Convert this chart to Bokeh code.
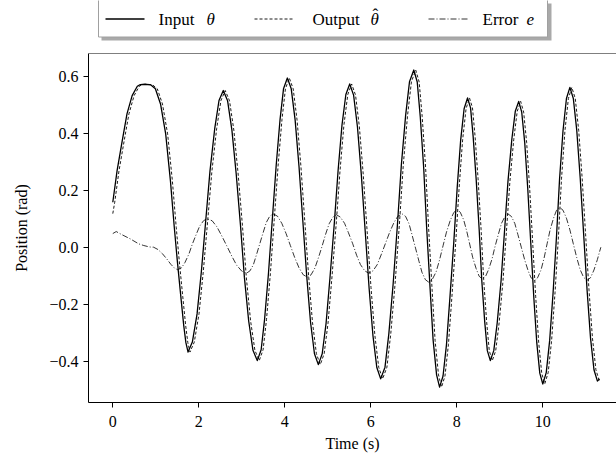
from bokeh.plotting import figure
from bokeh.models import FixedTicker, Span, Range1d
from bokeh.layouts import column
from bokeh.core.properties import value
from bokeh.embed import file_html
from bokeh.resources import INLINE

# ---------------- data ----------------
theta_t = [0.00, 0.10, 0.22, 0.33, 0.45, 0.57, 0.64, 0.75, 0.88, 0.99, 1.11, 1.23, 1.34, 1.43, 1.50, 1.58, 1.65, 1.70, 1.75,
           1.85, 1.96, 2.06, 2.16, 2.26, 2.37, 2.47, 2.57,
           2.67, 2.77, 2.87, 2.97, 3.06, 3.16, 3.26, 3.36,
           3.45, 3.53, 3.62, 3.71, 3.80, 3.89, 3.97, 4.06,
           4.15, 4.24, 4.33, 4.42, 4.51, 4.60, 4.69, 4.78,
           4.87, 4.96, 5.05, 5.15, 5.24, 5.33, 5.42, 5.51,
           5.60, 5.69, 5.78, 5.87, 5.96, 6.05, 6.14, 6.23,
           6.33, 6.42, 6.52, 6.62, 6.71, 6.81, 6.90, 7.00,
           7.08, 7.15, 7.23, 7.30, 7.38, 7.45, 7.53, 7.60,
           7.68, 7.76, 7.84, 7.93, 8.01, 8.09, 8.17, 8.25,
           8.32, 8.38, 8.45, 8.52, 8.58, 8.65, 8.71, 8.78,
           8.86, 8.94, 9.03, 9.11, 9.19, 9.28, 9.36, 9.44,
           9.51, 9.58, 9.65, 9.72, 9.79, 9.86, 9.93, 10.00,
           10.08, 10.16, 10.24, 10.32, 10.39, 10.47, 10.55, 10.63,
           10.71, 10.79, 10.87, 10.95, 11.03, 11.11, 11.19, 11.27, 11.32]
theta_v = [0.158, 0.269, 0.374, 0.468, 0.532, 0.565, 0.571, 0.572, 0.570, 0.556, 0.503, 0.398, 0.234, 0.070, -0.047, -0.170, -0.275, -0.335, -0.368,
           -0.333, -0.234, -0.085, 0.091, 0.267, 0.416, 0.515, 0.550,
           0.514, 0.411, 0.257, 0.076, -0.105, -0.259, -0.362, -0.398,
           -0.360, -0.253, -0.092, 0.098, 0.288, 0.449, 0.556, 0.594,
           0.556, 0.447, 0.284, 0.091, -0.102, -0.265, -0.374, -0.412,
           -0.374, -0.267, -0.108, 0.081, 0.270, 0.429, 0.536, 0.573,
           0.534, 0.422, 0.254, 0.056, -0.142, -0.310, -0.422, -0.462,
           -0.421, -0.303, -0.128, 0.080, 0.288, 0.463, 0.581, 0.622,
           0.580, 0.459, 0.279, 0.066, -0.147, -0.327, -0.448, -0.491,
           -0.452, -0.342, -0.177, 0.017, 0.211, 0.376, 0.486, 0.524,
           0.489, 0.389, 0.240, 0.063, -0.114, -0.263, -0.363, -0.398,
           -0.363, -0.265, -0.117, 0.057, 0.231, 0.379, 0.477, 0.512,
           0.474, 0.367, 0.206, 0.016, -0.174, -0.335, -0.442, -0.480,
           -0.440, -0.327, -0.158, 0.041, 0.240, 0.409, 0.522, 0.561,
           0.522, 0.410, 0.243, 0.046, -0.151, -0.319, -0.430, -0.470, -0.462]

out_t = [0.000, 0.045, 0.145, 0.265, 0.375, 0.495, 0.615, 0.685, 0.795, 0.925, 1.035, 1.155, 1.275, 1.385, 1.475, 1.545, 1.625, 1.695, 1.745, 1.795,
         1.895, 2.005, 2.105, 2.205, 2.305, 2.415, 2.515, 2.615,
         2.715, 2.815, 2.915, 3.015, 3.105, 3.205, 3.305, 3.405,
         3.495, 3.575, 3.665, 3.755, 3.845, 3.935, 4.015, 4.105,
         4.195, 4.285, 4.375, 4.465, 4.555, 4.645, 4.735, 4.825,
         4.915, 5.005, 5.095, 5.195, 5.285, 5.375, 5.465, 5.555,
         5.645, 5.735, 5.825, 5.915, 6.005, 6.095, 6.185, 6.275,
         6.375, 6.465, 6.565, 6.665, 6.755, 6.855, 6.945, 7.045,
         7.125, 7.195, 7.275, 7.345, 7.425, 7.495, 7.575, 7.645,
         7.725, 7.805, 7.885, 7.975, 8.055, 8.135, 8.215, 8.295,
         8.365, 8.425, 8.495, 8.565, 8.625, 8.695, 8.755, 8.825,
         8.905, 8.985, 9.075, 9.155, 9.235, 9.325, 9.405, 9.485,
         9.555, 9.625, 9.695, 9.765, 9.835, 9.905, 9.975, 10.045,
         10.125, 10.205, 10.285, 10.365, 10.435, 10.515, 10.595, 10.675,
         10.755, 10.835, 10.915, 10.995, 11.075, 11.155, 11.235, 11.315]
out_v = [0.118, 0.158, 0.269, 0.374, 0.468, 0.532, 0.565, 0.571, 0.572, 0.570, 0.556, 0.503, 0.398, 0.234, 0.070, -0.047, -0.170, -0.275, -0.335, -0.368,
         -0.333, -0.234, -0.085, 0.091, 0.267, 0.416, 0.515, 0.550,
         0.514, 0.411, 0.257, 0.076, -0.105, -0.259, -0.362, -0.398,
         -0.360, -0.253, -0.092, 0.098, 0.288, 0.449, 0.556, 0.594,
         0.556, 0.447, 0.284, 0.091, -0.102, -0.265, -0.374, -0.412,
         -0.374, -0.267, -0.108, 0.081, 0.270, 0.429, 0.536, 0.573,
         0.534, 0.422, 0.254, 0.056, -0.142, -0.310, -0.422, -0.462,
         -0.421, -0.303, -0.128, 0.080, 0.288, 0.463, 0.581, 0.622,
         0.580, 0.459, 0.279, 0.066, -0.147, -0.327, -0.448, -0.491,
         -0.452, -0.342, -0.177, 0.017, 0.211, 0.376, 0.486, 0.524,
         0.489, 0.389, 0.240, 0.063, -0.114, -0.263, -0.363, -0.398,
         -0.363, -0.265, -0.117, 0.057, 0.231, 0.379, 0.477, 0.512,
         0.474, 0.367, 0.206, 0.016, -0.174, -0.335, -0.442, -0.480,
         -0.440, -0.327, -0.158, 0.041, 0.240, 0.409, 0.522, 0.561,
         0.522, 0.410, 0.243, 0.046, -0.151, -0.319, -0.430, -0.470]

err_t = [0.00, 0.08, 0.20, 0.41, 0.60, 0.72, 0.85, 0.95, 1.05, 1.15, 1.25, 1.35, 1.44, 1.51,
         1.60, 1.68, 1.77, 1.85, 1.94, 2.02, 2.11, 2.19,
         2.31, 2.42, 2.53, 2.65, 2.77, 2.88, 3.00, 3.11,
         3.19, 3.27, 3.34, 3.42, 3.50, 3.57, 3.65, 3.73,
         3.83, 3.93, 4.03, 4.13, 4.23, 4.33, 4.43, 4.53,
         4.61, 4.70, 4.78, 4.87, 4.95, 5.03, 5.12, 5.20,
         5.29, 5.39, 5.48, 5.58, 5.67, 5.76, 5.86, 5.95,
         6.05, 6.15, 6.24, 6.34, 6.44, 6.54, 6.63, 6.73,
         6.81, 6.89, 6.96, 7.04, 7.12, 7.19, 7.27, 7.35,
         7.43, 7.52, 7.60, 7.68, 7.76, 7.85, 7.93, 8.01,
         8.08, 8.16, 8.23, 8.30, 8.37, 8.45, 8.52, 8.59,
         8.67, 8.74, 8.82, 8.89, 8.97, 9.04, 9.12, 9.19,
         9.27, 9.35, 9.42, 9.50, 9.58, 9.66, 9.73, 9.81,
         9.88, 9.96, 10.03, 10.10, 10.17, 10.25, 10.32, 10.39,
         10.47, 10.55, 10.63, 10.71, 10.79, 10.87, 10.95, 11.03,
         11.11, 11.19, 11.27, 11.35]
err_v = [0.048, 0.055, 0.045, 0.029, 0.012, 0.006, 0.001, 0.000, -0.008, -0.022, -0.040, -0.060, -0.074, -0.079,
         -0.072, -0.053, -0.024, 0.011, 0.045, 0.074, 0.093, 0.100,
         0.093, 0.072, 0.041, 0.005, -0.032, -0.063, -0.084, -0.091,
         -0.083, -0.061, -0.027, 0.013, 0.053, 0.087, 0.109, 0.117,
         0.109, 0.084, 0.048, 0.006, -0.036, -0.072, -0.097, -0.105,
         -0.097, -0.073, -0.038, 0.005, 0.046, 0.082, 0.106, 0.114,
         0.106, 0.084, 0.051, 0.012, -0.028, -0.061, -0.083, -0.091,
         -0.083, -0.061, -0.027, 0.013, 0.053, 0.087, 0.109, 0.117,
         0.108, 0.082, 0.043, -0.003, -0.049, -0.088, -0.114, -0.123,
         -0.113, -0.086, -0.044, 0.005, 0.053, 0.095, 0.122, 0.132,
         0.123, 0.096, 0.057, 0.011, -0.036, -0.075, -0.102, -0.111,
         -0.102, -0.078, -0.041, 0.003, 0.047, 0.084, 0.108, 0.117,
         0.108, 0.083, 0.045, 0.000, -0.045, -0.083, -0.108, -0.117,
         -0.107, -0.079, -0.038, 0.012, 0.061, 0.102, 0.130, 0.140,
         0.130, 0.102, 0.061, 0.012, -0.037, -0.079, -0.106, -0.116,
         -0.107, -0.080, -0.043, 0.000]

x_ticks = [0, 2, 4, 6, 8, 10]
y_ticks = [-0.4, -0.2, 0.0, 0.2, 0.4, 0.6]
y_tick_labels = ["\u22120.4", "\u22120.2", "0.0", "0.2", "0.4", "0.6"]
X_MIN, X_MAX = -0.565, 11.714
Y_MIN, Y_MAX = -0.545, 0.680

legend_labels = ["Input", "Output", "Error"]
legend_symbols = ["\u03b8", "\u03b8", "e"]
x_label = "Time (s)"
y_label = "Position (rad)"

FONT = "Liberation Serif"
LINE_STYLES = [dict(line_width=1.3, line_dash="solid"),
               dict(line_width=0.9, line_dash="3 2"),
               dict(line_width=0.8, line_dash="6 2 1 2")]

# ---------------- legend strip (separate small canvas above the chart) ----------------
# its frame is aligned with the chart's frame (starts 88 px from the left),
# so the range is set to page pixels over that frame
LEG_H = 45
lg = figure(width=616, height=LEG_H, output_backend="svg", toolbar_location=None,
            x_range=Range1d(start=88, end=616), y_range=Range1d(start=0, end=LEG_H),
            x_axis_type=None, y_axis_type=None, min_border=0)
lg.min_border_left = 88
lg.outline_line_color = None
lg.xgrid.grid_line_color = None
lg.ygrid.grid_line_color = None
lg.quad(left=[101], right=[551], top=[42], bottom=[5], fill_color="#9a9a9a",
        line_color=None, fill_alpha=0.85)
lg.quad(left=[98], right=[547], top=[46], bottom=[8.5], fill_color="white",
        line_color="#a0a0a0", line_width=1)
sample_x0 = [105, 254, 428]
sample_x1 = [144, 293, 468]
label_x = [158, 312, 482]
symbol_x = [206, 370, 526]
ROW_Y = 26.5
for i in range(3):
    lg.line([sample_x0[i], sample_x1[i]], [ROW_Y, ROW_Y], line_color="black", **LINE_STYLES[i])
lg.text(x=label_x, y=[ROW_Y - 0.5] * 3, text=legend_labels, text_font=value(FONT),
        text_font_size=value("17px"), text_color="black", text_align="left",
        text_baseline="middle")
lg.text(x=symbol_x, y=[ROW_Y - 0.5] * 3, text=legend_symbols, text_font=value(FONT),
        text_font_size=value("17px"), text_font_style="italic", text_color="black",
        text_align="left", text_baseline="middle")
# hat over the output's theta
lg.text(x=[symbol_x[1] + 2], y=[ROW_Y + 4.5], text=["\u02c6"], text_font=value(FONT),
        text_font_size=value("17px"), text_color="black", text_align="left",
        text_baseline="middle")

# ---------------- main chart ----------------
p = figure(width=616, height=418, output_backend="svg", toolbar_location=None,
           x_range=Range1d(start=X_MIN, end=X_MAX), y_range=Range1d(start=Y_MIN, end=Y_MAX))
p.min_border_left = 88
p.min_border_right = 0
p.min_border_top = 8
p.min_border_bottom = 61
p.outline_line_color = None
p.xgrid.grid_line_color = None
p.ygrid.grid_line_color = None

p.line(theta_t, theta_v, line_color="black", line_join="round", **LINE_STYLES[0])
p.line(out_t, out_v, line_color="black", line_join="round", **LINE_STYLES[1])
p.line(err_t, err_v, line_color="black", line_join="round", **LINE_STYLES[2])

# top spine
p.add_layout(Span(location=Y_MAX, dimension="width", line_color="black", line_width=1))

for ax in (p.xaxis[0], p.yaxis[0]):
    ax.axis_line_color = "black"
    ax.major_tick_line_color = "black"
    ax.major_tick_out = 5
    ax.major_tick_in = 0
    ax.minor_tick_line_color = None
    ax.major_label_text_font = FONT
    ax.major_label_text_font_size = "16px"
    ax.major_label_text_color = "black"
    ax.axis_label_text_font = FONT
    ax.axis_label_text_font_size = "16px"
    ax.axis_label_text_font_style = "normal"
    ax.axis_label_text_color = "black"

p.xaxis[0].ticker = FixedTicker(ticks=x_ticks)
p.yaxis[0].ticker = FixedTicker(ticks=y_ticks)
p.yaxis[0].major_label_overrides = dict(zip(y_ticks, y_tick_labels))
p.xaxis[0].axis_label = x_label
p.yaxis[0].axis_label = y_label
p.yaxis[0].axis_label_standoff = 16
p.xaxis[0].major_label_standoff = 8
p.xaxis[0].axis_label_standoff = 5

layout = column(lg, p, spacing=0)
open("out.html", "w").write(file_html(layout, INLINE))
